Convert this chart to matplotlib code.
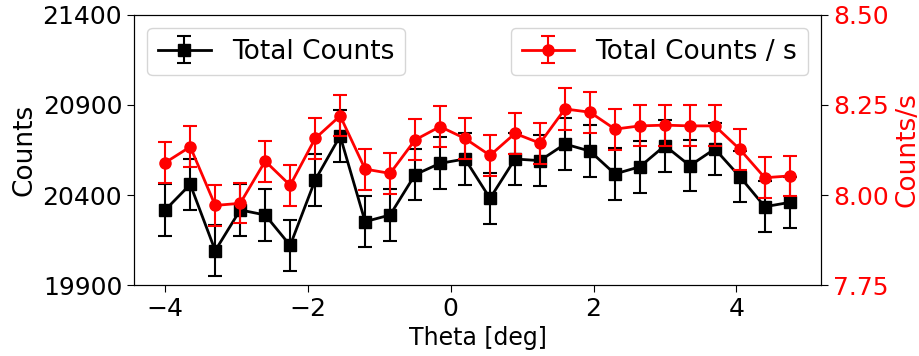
import numpy as np
import matplotlib
matplotlib.use("Agg")
import matplotlib.pyplot as plt

theta = [-4.0, -3.65, -3.3, -2.95, -2.6, -2.25, -1.9, -1.55, -1.2, -0.85, -0.5, -0.15, 0.2,
         0.55, 0.9, 1.25, 1.6, 1.95, 2.3, 2.65, 3.0, 3.35, 3.7, 4.05, 4.4, 4.75]
counts = [20317, 20459, 20091, 20317, 20289, 20120, 20483, 20728, 20252, 20289, 20513, 20576, 20600,
          20381, 20600, 20591, 20683, 20644, 20517, 20557, 20674, 20563, 20656, 20502, 20335, 20359]
rate = [8.090, 8.134, 7.971, 7.977, 8.094, 8.027, 8.157, 8.220, 8.072, 8.060, 8.153, 8.190, 8.157,
        8.110, 8.171, 8.144, 8.239, 8.230, 8.183, 8.192, 8.194, 8.192, 8.192, 8.127, 8.048, 8.053]

counts_err = np.sqrt(np.array(counts, dtype=float))
rate_err = np.array(rate) / counts_err

fig = plt.figure(figsize=(9.2, 3.56), dpi=100)
ax = fig.add_axes([0.1457, 0.1994, 0.7467, 0.7585])
ax2 = ax.twinx()

ax.errorbar(theta, counts, yerr=counts_err, color='black', marker='s', markersize=8,
            linewidth=2, capsize=5, elinewidth=1.5, capthick=1.5, label='Total Counts')
ax2.errorbar(theta, rate, yerr=rate_err, color='red', marker='o', markersize=8,
             linewidth=2, capsize=5, elinewidth=1.5, capthick=1.5, label='Total Counts / s')

ax.set_ylim(19900, 21400)
ax.set_yticks([19900, 20400, 20900, 21400])
ax2.set_ylim(7.75, 8.50)
ax2.set_yticks([7.75, 8.00, 8.25, 8.50])
ax2.set_yticklabels(['7.75', '8.00', '8.25', '8.50'])

fs = 18
ax.set_xlabel('Theta [deg]', fontsize=fs - 1)
ax.set_ylabel('Counts', fontsize=fs + 1)
ax2.set_ylabel('Counts/s', fontsize=fs + 1, color='red')
ax.tick_params(axis='both', labelsize=fs, length=5)
ax2.tick_params(axis='y', labelsize=fs, colors='red', length=5)
ax2.tick_params(axis='y', color='black')
ax2.spines['right'].set_color('black')

ax.legend(loc='upper left', fontsize=19)
ax2.legend(loc='upper right', fontsize=19)

fig.savefig('out.png', dpi=100)
